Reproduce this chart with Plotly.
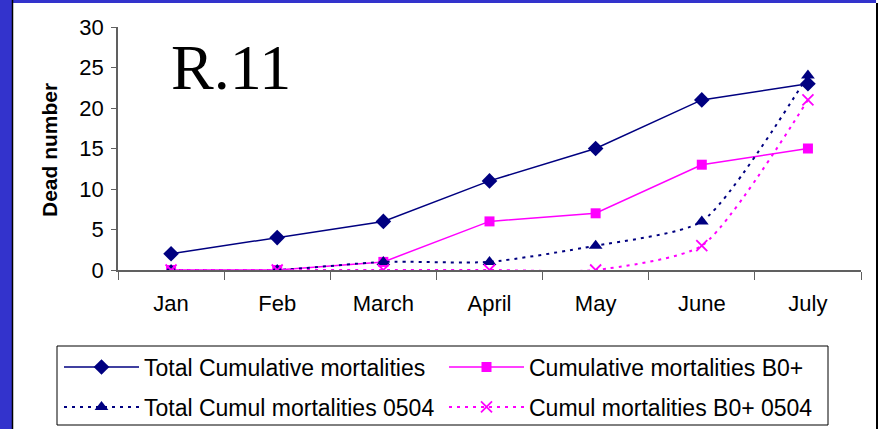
import plotly.graph_objects as go

months = ["Jan", "Feb", "March", "April", "May", "June", "July"]
total_cum = [2, 4, 6, 11, 15, 21, 23]
cum_b0 = [0, 0, 1, 6, 7, 13, 15]
total_cum_0504 = [0, 0, 1, 1, 3, 6, 24]
cum_b0_0504 = [0, 0, 0, 0, 0, 3, 21]

navy = "#000080"
magenta = "#FF00FF"
blue_frame = "#3333CC"

W, H = 878, 429
L, R, T, B = 118, 861, 27, 270   # plot area in pixels


def px(x):
    return (x - L) / (R - L)


def py(y):
    return (B - y) / (B - T)


fig = go.Figure()
fig.add_trace(go.Scatter(x=months, y=total_cum, name="Total Cumulative mortalities",
                         mode="lines+markers", line=dict(color=navy, width=1.5),
                         marker=dict(symbol="diamond", size=12, color=navy), legend="legend"))
fig.add_trace(go.Scatter(x=months, y=cum_b0, name="Cumulative mortalities B0+",
                         mode="lines+markers", line=dict(color=magenta, width=1.5),
                         marker=dict(symbol="square", size=10, color=magenta), legend="legend2"))
fig.add_trace(go.Scatter(x=months, y=total_cum_0504, name="Total Cumul mortalities 0504",
                         mode="lines+markers",
                         line=dict(color=navy, width=2, dash="3px,5px", shape="spline", smoothing=0.6),
                         marker=dict(symbol="triangle-up", size=12, color=navy), legend="legend3"))
fig.add_trace(go.Scatter(x=months, y=cum_b0_0504, name="Cumul mortalities B0+ 0504",
                         mode="lines+markers",
                         line=dict(color=magenta, width=2, dash="3px,5px", shape="spline", smoothing=0.6),
                         marker=dict(symbol="x-thin", size=11, color=magenta,
                                     line=dict(color=magenta, width=1.8)), legend="legend4"))

leg = dict(orientation="h", xanchor="left", yanchor="middle", itemwidth=75,
           font=dict(size=23), bgcolor="rgba(0,0,0,0)", borderwidth=0)

fig.update_layout(
    width=W, height=H,
    margin=dict(l=L, r=W - R, t=T, b=H - B, autoexpand=False),
    paper_bgcolor="white", plot_bgcolor="white",
    font=dict(family="Liberation Sans, Arial", size=22, color="black"),
    showlegend=True,
    legend=dict(leg, x=px(59), y=py(367)),
    legend2=dict(leg, x=px(444), y=py(367)),
    legend3=dict(leg, x=px(59), y=py(407)),
    legend4=dict(leg, x=px(444), y=py(407)),
    annotations=[
        dict(text="R.11", x=px(231), y=py(105), xref="paper", yref="paper",
             xanchor="center", yanchor="bottom", showarrow=False,
             font=dict(family="Liberation Serif, Times New Roman", size=64, color="black")),
        dict(text="<b>Dead number</b>", x=px(49), y=py(150), xref="paper", yref="paper",
             textangle=-90, showarrow=False, xanchor="center", yanchor="middle",
             font=dict(size=21)),
    ],
    shapes=[
        dict(type="rect", xref="paper", yref="paper", x0=px(0), x1=px(12), y0=py(H), y1=py(0),
             fillcolor=blue_frame, line=dict(width=0), layer="below"),
        dict(type="rect", xref="paper", yref="paper", x0=px(0), x1=px(876), y0=py(3), y1=py(0),
             fillcolor=blue_frame, line=dict(width=0), layer="below"),
        dict(type="line", xref="paper", yref="paper", x0=px(12.5), x1=px(12.5), y0=py(H), y1=py(0),
             line=dict(color="black", width=1.5)),
        dict(type="line", xref="paper", yref="paper", x0=px(877), x1=px(877), y0=py(H), y1=py(3),
             line=dict(color="black", width=2)),
        dict(type="rect", xref="paper", yref="paper", x0=px(57), x1=px(828), y0=py(425), y1=py(346),
             line=dict(color="black", width=1), fillcolor="rgba(0,0,0,0)"),
    ],
)
fig.update_xaxes(type="category", range=[-0.5, 6.5], showline=True, linecolor="#606060",
                 linewidth=1.5, ticks="outside", tickson="boundaries", ticklen=8,
                 tickcolor="#606060", showgrid=False, zeroline=False, ticklabelstandoff=13)
fig.update_yaxes(range=[0, 30], dtick=5, showline=True, linecolor="#606060", linewidth=1.5,
                 ticks="outside", ticklen=5, tickcolor="#606060", showgrid=False, zeroline=False,
                 ticklabelstandoff=3)

# page body has a default margin; drop it so the figure sits at the window corner
fig.write_html("out.html", config={"displayModeBar": False},
               post_script="document.body.style.margin='0';")
